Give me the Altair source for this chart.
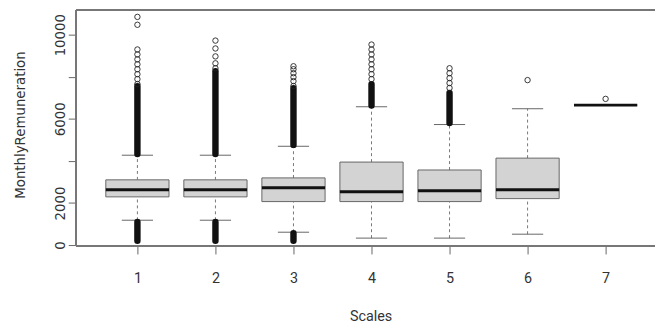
import altair as alt
import pandas as pd

# ---- data ----
scales = [1, 2, 3, 4, 5, 6, 7]
lower_whisker = [1180, 1180, 610, 330, 330, 516, 6650]
q1 = [2290, 2290, 2066, 2066, 2066, 2207, 6650]
median = [2629, 2629, 2723, 2535, 2582, 2629, 6650]
q3 = [3099, 3099, 3192, 3944, 3568, 4131, 6650]
upper_whisker = [4270, 4270, 4695, 6573, 5728, 6479, 6650]

# individual (sparse) outliers per scale
outliers = {
    1: [10845, 10470, 9296, 9061, 8826, 8592, 8357, 8122, 7887, 7653],
    2: [9718, 9343, 8967, 8638, 8404],
    3: [8498, 8357, 8169, 7981, 7793, 7559],
    4: [9530, 9296, 9061, 8826, 8592, 8357, 8122, 7887],
    5: [8404, 8169, 7934, 7700, 7465],
    6: [7840],
    7: [6948],
}
# dense runs of overlapping outliers (scale, low, high)
dense_scale = [1, 1, 2, 2, 3, 3, 4, 5]
dense_low = [4330, 200, 4330, 200, 4760, 200, 6630, 5800]
dense_high = [7550, 1100, 8260, 1100, 7450, 560, 7650, 7230]

y_ticks = [0, 2000, 4000, 6000, 8000, 10000]

# ---- tables ----
boxes = pd.DataFrame({
    "scale": scales, "lw": lower_whisker, "q1": q1, "med": median,
    "q3": q3, "uw": upper_whisker,
})
out_rows = [{"scale": s, "v": v} for s, vals in outliers.items() for v in vals]
out_df = pd.DataFrame(out_rows)
dense_df = pd.DataFrame({"scale": dense_scale, "lo": dense_low, "hi": dense_high})

W, H = 586, 239
xscale = alt.Scale(domain=[0.215, 7.633], nice=False, zero=False)
yscale = alt.Scale(domain=[-47, 11174], nice=False, zero=False)

x_axis = alt.Axis(
    values=scales, format="d", grid=False, domain=False,
    tickColor="#666", tickSize=8, labelFont="Roboto",
    labelFontSize=14.5, labelColor="#333", labelPadding=18,
    title="Scales", titleFont="Roboto", titleFontSize=14.5,
    titleFontWeight="normal", titleColor="#333", titleX=298, titleY=71,
    titleAlign="center", titleBaseline="middle",
)
y_axis = alt.Axis(
    values=y_ticks, format="d", grid=False, domain=False,
    labelExpr="(datum.value == 4000 || datum.value == 8000) ? '' : datum.label",
    tickColor="#666", tickSize=8, labelAngle=-90, labelAlign="center",
    labelBaseline="bottom", labelPadding=1, labelFont="DejaVu Sans",
    labelFontSize=13.5, labelColor="#333",
    title="MonthlyRemuneration", titleFont="DejaVu Sans", titleFontSize=13.5,
    titleFontWeight="normal", titleColor="#333", titleAngle=-90,
    titleX=-56, titleY=116, titleAlign="center", titleBaseline="middle",
)

base = alt.Chart(boxes).transform_calculate(
    xl="datum.scale - 0.405", xr="datum.scale + 0.405",
    cl="datum.scale - 0.2", cr="datum.scale + 0.2",
)

upper_wh = base.mark_rule(color="#777", strokeWidth=1, strokeDash=[3, 3]).encode(
    x=alt.X("scale:Q", scale=xscale, axis=x_axis),
    y=alt.Y("q3:Q", scale=yscale, axis=y_axis),
    y2="uw:Q",
)
lower_wh = base.mark_rule(color="#777", strokeWidth=1, strokeDash=[3, 3]).encode(
    x="scale:Q", y="lw:Q", y2="q1:Q",
)
cap_up = base.mark_rule(color="#666", strokeWidth=1).encode(
    x="cl:Q", x2="cr:Q", y="uw:Q",
)
cap_lo = base.mark_rule(color="#666", strokeWidth=1).encode(
    x="cl:Q", x2="cr:Q", y="lw:Q",
)
box = base.mark_rect(fill="#d3d3d3", stroke="#666", strokeWidth=1).encode(
    x="xl:Q", x2="xr:Q", y="q1:Q", y2="q3:Q",
)
med = base.mark_rule(color="#111", strokeWidth=3).encode(
    x="xl:Q", x2="xr:Q", y="med:Q",
)
dense = alt.Chart(dense_df).mark_rule(
    color="#111", strokeWidth=6.5, strokeCap="round"
).encode(x="scale:Q", y="lo:Q", y2="hi:Q")
pts = alt.Chart(out_df).mark_point(
    shape="circle", filled=False, color="#222", size=30, strokeWidth=0.9, opacity=1
).encode(x="scale:Q", y="v:Q")

frame_top = alt.Chart(boxes).mark_rule(color="#777", strokeWidth=1.2).encode(
    x=alt.value(0), x2=alt.value(W), y=alt.value(0))
frame_left = alt.Chart(boxes).mark_rule(color="#777", strokeWidth=1.2).encode(
    x=alt.value(0), y=alt.value(0), y2=alt.value(H))
frame_bot = alt.Chart(boxes).mark_rule(color="#777", strokeWidth=1.2).encode(
    x=alt.value(0), x2=alt.value(W), y=alt.value(H))

chart = alt.layer(
    upper_wh, lower_wh, cap_up, cap_lo, box, med, dense, pts,
    frame_top, frame_left, frame_bot,
).properties(
    width=W, height=H,
    autosize=alt.AutoSizeParams(type="none"),
    padding={"left": 69, "top": 0, "right": 0, "bottom": 82},
    background="white",
).configure_view(stroke=None)

chart.save("out.html", embed_options={"renderer": "svg", "actions": False})
